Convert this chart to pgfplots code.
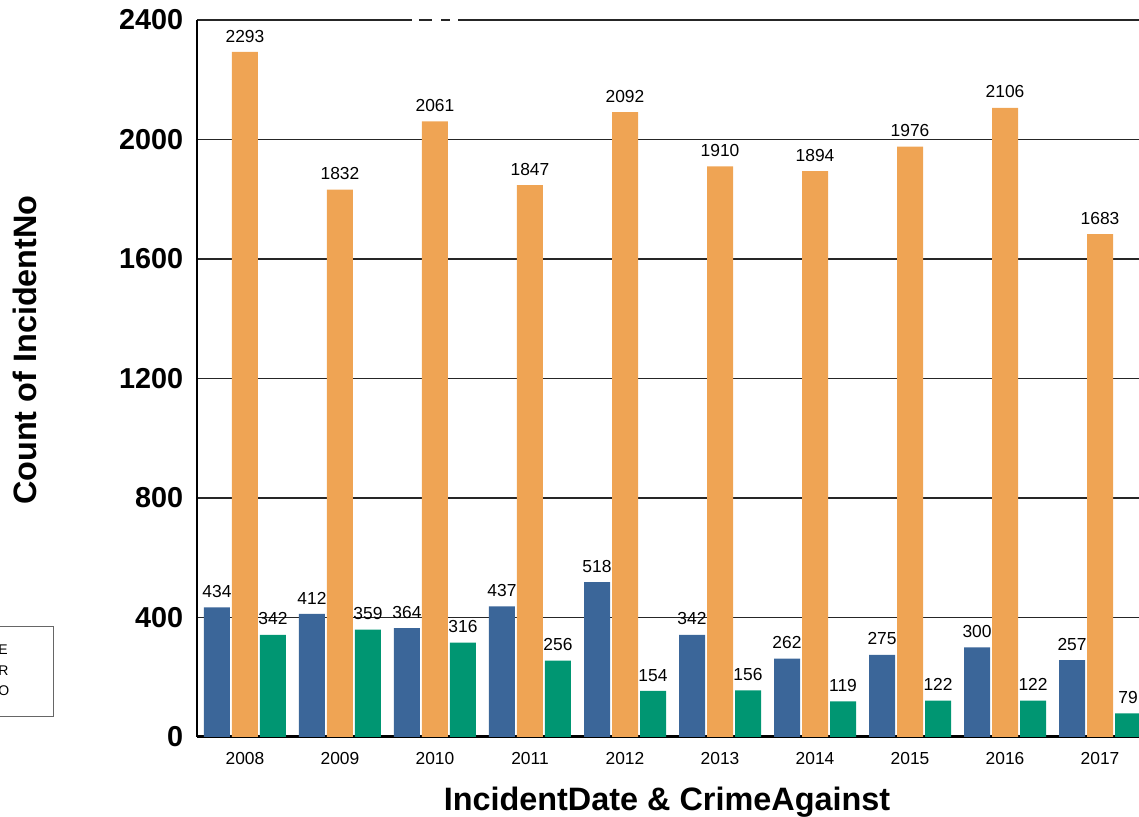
\documentclass[border=0pt]{standalone}
\usepackage{fontspec}
\setmainfont{Liberation Sans}
\usepackage{pgfplots}
\pgfplotsset{compat=1.18}
\definecolor{cblue}{HTML}{3B6699}
\definecolor{corange}{HTML}{EFA454}
\definecolor{cgreen}{HTML}{009672}
\begin{document}
\begin{tikzpicture}
\path[use as bounding box] (0,0) rectangle (569.5pt,408.5pt);
\begin{axis}[
  at={(98.5pt,40pt)}, anchor=south west, scale only axis,
  width=476.5pt, height=358.5pt,
  xmin=-0.505, xmax=9.526, ymin=0, ymax=2400,
  clip=false,
  ybar=1pt, bar width=13pt,
  axis x line*=bottom, axis y line*=left,
  x axis line style={-, line width=1.5pt, black},
  y axis line style={-, line width=1pt, black},
  xtick={0,1,2,3,4,5,6,7,8,9},
  xticklabels={2008,2009,2010,2011,2012,2013,2014,2015,2016,2017},
  ytick={0,400,800,1200,1600,2000,2400},
  major tick length=0pt,
  ymajorgrids, grid style={black!85, line width=0.75pt},
  /pgf/number format/assume math mode=true,
  /pgf/number format/1000 sep={},
  scaled y ticks=false,
  yticklabel style={font=\fontsize{14.4}{16}\selectfont\bfseries, inner sep=0pt, xshift=-6.75pt},
  xticklabel style={font=\fontsize{8.7}{10}\selectfont, anchor=base, inner sep=0pt, yshift=-14pt},
  xlabel={IncidentDate \& CrimeAgainst},
  ylabel={Count of IncidentNo},
  xlabel style={font=\fontsize{16.2}{19}\selectfont\bfseries, at={(axis description cs:0.4932,0)}, anchor=base, yshift=-37pt},
  ylabel style={font=\fontsize{16.2}{19}\selectfont\bfseries, at={(axis description cs:-0.1682,0.5397)}, anchor=base},
  nodes near coords,
  every node near coord/.append style={font=\fontsize{8.7}{10}\selectfont, inner sep=0pt, yshift=4.65pt, black},
]
\addplot[fill=cblue, draw=none] coordinates {(0,434) (1,412) (2,364) (3,437) (4,518) (5,342) (6,262) (7,275) (8,300) (9,257)};
\addplot[fill=corange, draw=none] coordinates {(0,2293) (1,1832) (2,2061) (3,1847) (4,2092) (5,1910) (6,1894) (7,1976) (8,2106) (9,1683)};
\addplot[fill=cgreen, draw=none] coordinates {(0,342) (1,359) (2,316) (3,256) (4,154) (5,156) (6,119) (7,122) (8,122) (9,79)};
\draw[white, line width=2pt] (axis cs:1.758,2400) -- (axis cs:1.832,2400);
\draw[white, line width=2pt] (axis cs:1.968,2400) -- (axis cs:2.063,2400);
\draw[white, line width=2pt] (axis cs:2.158,2400) -- (axis cs:2.242,2400);
\end{axis}
\draw[black!60, line width=0.5pt] (-5pt,95.15pt) rectangle (26.85pt,50.15pt);
\node[anchor=base west, inner sep=0pt, font=\fontsize{7}{8}\selectfont] at (-1pt,81pt) {E};
\node[anchor=base west, inner sep=0pt, font=\fontsize{7}{8}\selectfont] at (-1pt,70.5pt) {R};
\node[anchor=base west, inner sep=0pt, font=\fontsize{7}{8}\selectfont] at (-1pt,60.5pt) {O};
\end{tikzpicture}
\end{document}
